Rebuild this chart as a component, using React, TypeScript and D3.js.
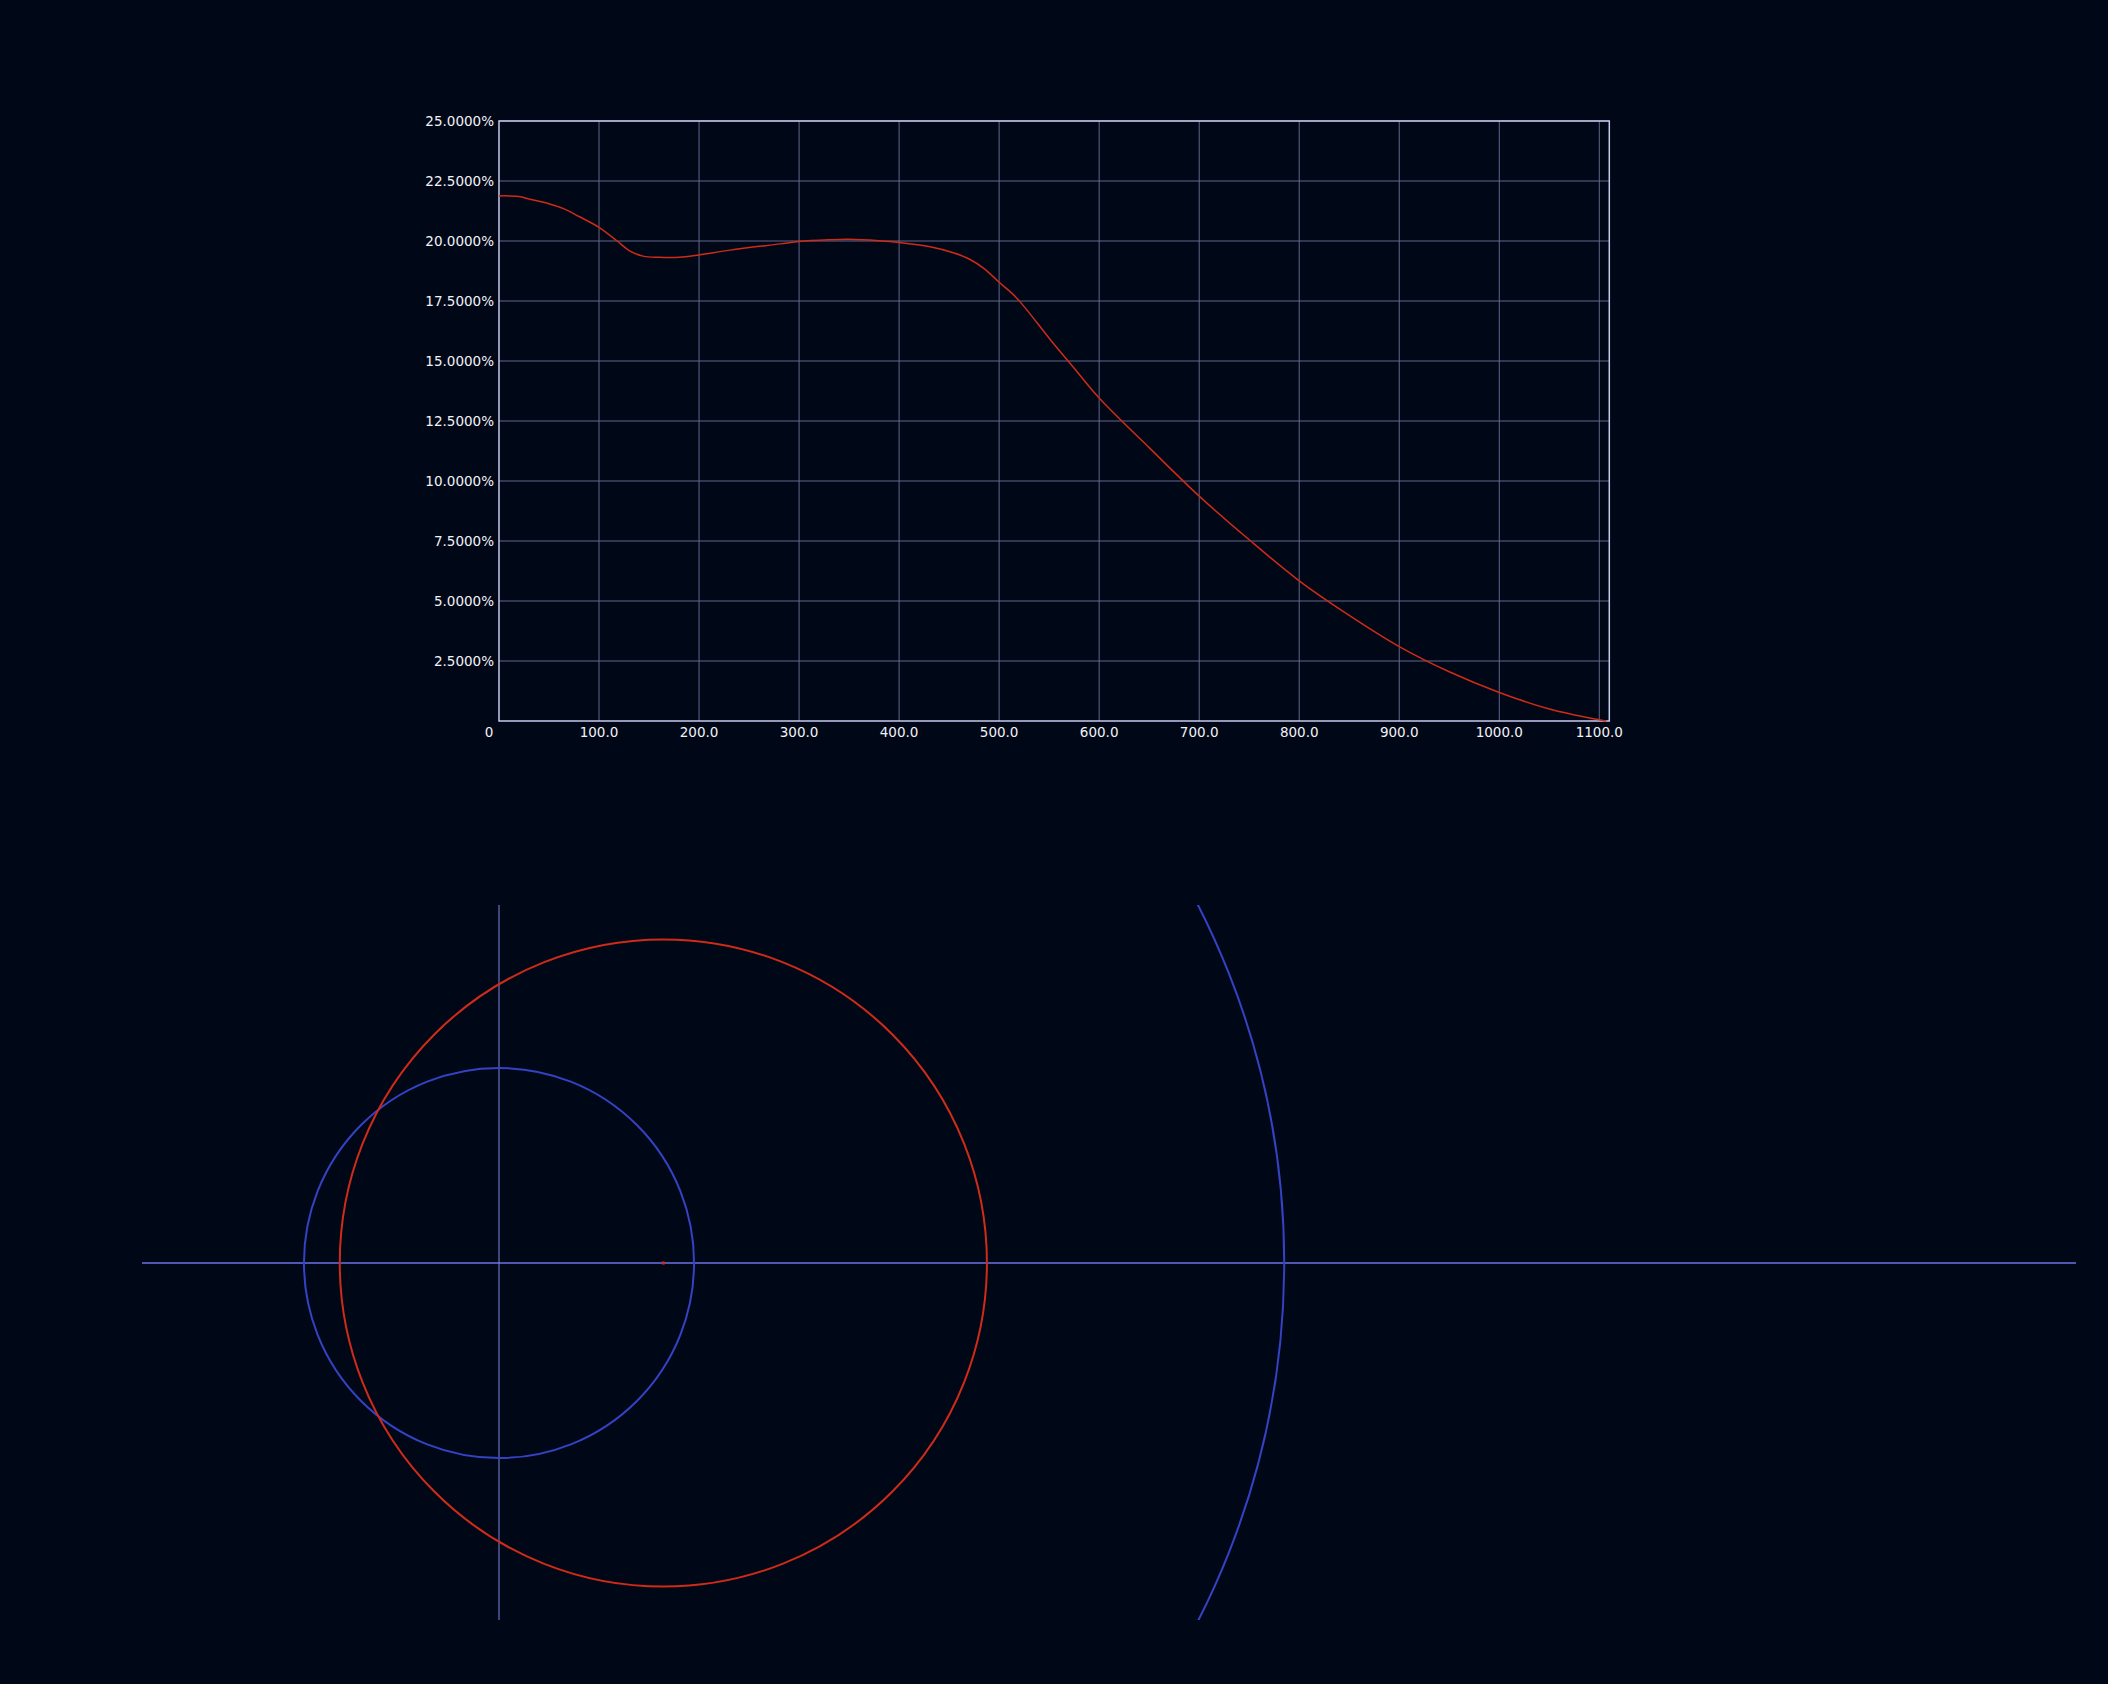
import React from "react";
import * as d3 from "d3";

const W = 2108;
const H = 1684;

// Top chart data: x position vs percentage
const curveX = [0, 10, 20, 31, 50, 64, 80, 100, 118, 131, 144, 160, 180, 200, 231, 281, 300, 330, 350, 380, 400, 431, 455, 470, 485, 500, 517, 551, 575, 600, 650, 700, 750, 800, 850, 900, 950, 1000, 1050, 1100, 1107];
const curveY = [21.88, 21.88, 21.85, 21.74, 21.55, 21.36, 21.02, 20.57, 20.0, 19.58, 19.37, 19.32, 19.32, 19.42, 19.62, 19.88, 19.98, 20.05, 20.07, 20.01, 19.94, 19.76, 19.5, 19.25, 18.85, 18.28, 17.65, 15.9, 14.7, 13.46, 11.39, 9.37, 7.55, 5.84, 4.4, 3.1, 2.05, 1.19, 0.5, 0.05, 0.0];

const xTicks = [100, 200, 300, 400, 500, 600, 700, 800, 900, 1000, 1100];
const yTicks = [2.5, 5, 7.5, 10, 12.5, 15, 17.5, 20, 22.5, 25];

// Bottom chart data (same units as top x axis)
const blueCircleR = 195;
const redCircleCx = 164.3;
const redCircleR = 323.5;
const bigArcR = 785;

const BG = "rgb(0,8,24)";
const TXT = "#f2f2f6";
const GRID = "#62668a";
const BORDER = "#c8c8ee";
const RED = "#d02a18";
const BLUE = "#3442c4";
const AXISBLUE = "#6a72e4";

export default function App() {
  const x = d3.scaleLinear().domain([0, 1110]).range([499, 1609.3]);
  const y = d3.scaleLinear().domain([0, 25]).range([721, 121]);

  const pts: [number, number][] = curveX.map((v, i) => [v, curveY[i]]);
  const line = d3
    .line<[number, number]>()
    .x((d) => x(d[0]))
    .y((d) => y(d[1]))
    .curve(d3.curveCatmullRom.alpha(0.5));

  // bottom
  const k = x(1) - x(0);
  const cx0 = x(0);
  const cy0 = 1263;
  const by = d3.scaleLinear().domain([-1, 1]).range([cy0 + k, cy0 - k]);
  const clipX0 = 142, clipX1 = 2076, clipY0 = 905, clipY1 = 1620;

  const font = "'DejaVu Sans', sans-serif";
  const fs = 13.5;

  return (
    <svg
      width={W}
      height={H}
      style={{ position: "absolute", left: 0, top: 0, display: "block" }}
    >
      <rect x={0} y={0} width={W} height={H} fill={BG} />
      {/* grid */}
      {xTicks.map((t) => (
        <line key={"gx" + t} x1={x(t)} x2={x(t)} y1={y(25)} y2={y(0)} stroke={GRID} strokeWidth={1} />
      ))}
      {yTicks.map((t) => (
        <line key={"gy" + t} x1={x(0)} x2={x(1110)} y1={y(t)} y2={y(t)} stroke={GRID} strokeWidth={1} />
      ))}
      {/* border */}
      <rect x={x(0)} y={y(25)} width={x(1110) - x(0)} height={y(0) - y(25)} fill="none" stroke={BORDER} strokeWidth={1.5} />
      {/* curve */}
      <path d={line(pts) || ""} fill="none" stroke={RED} strokeWidth={1.5} />
      {/* y labels */}
      {yTicks.map((t) => (
        <text key={"ly" + t} x={494} y={y(t)} dy="0.35em" textAnchor="end" fill={TXT} fontFamily={font} fontSize={fs}>
          {t.toFixed(4) + "%"}
        </text>
      ))}
      {/* x labels */}
      <text x={489} y={737} textAnchor="middle" fill={TXT} fontFamily={font} fontSize={fs}>0</text>
      {xTicks.map((t) => (
        <text key={"lx" + t} x={x(t)} y={737} textAnchor="middle" fill={TXT} fontFamily={font} fontSize={fs}>
          {t.toFixed(1)}
        </text>
      ))}

      {/* bottom chart */}
      <defs>
        <clipPath id="bclip">
          <rect x={clipX0} y={clipY0} width={clipX1 - clipX0} height={clipY1 - clipY0} />
        </clipPath>
      </defs>
      <g clipPath="url(#bclip)">
        <line x1={clipX0} x2={clipX1} y1={by(0)} y2={by(0)} stroke={AXISBLUE} strokeWidth={1.5} />
        <line x1={cx0} x2={cx0} y1={clipY0} y2={clipY1} stroke="#7a82dc" strokeWidth={1} />
        <circle cx={x(0)} cy={by(0)} r={blueCircleR * k} fill="none" stroke={BLUE} strokeWidth={2} />
        <circle cx={x(redCircleCx)} cy={by(0)} r={redCircleR * k} fill="none" stroke={RED} strokeWidth={2} />
        <circle cx={x(0)} cy={by(0)} r={bigArcR * k} fill="none" stroke={BLUE} strokeWidth={2} />
        <rect x={x(redCircleCx) - 1.5} y={by(0) - 1.5} width={3} height={3} fill={RED} />
      </g>
    </svg>
  );
}
